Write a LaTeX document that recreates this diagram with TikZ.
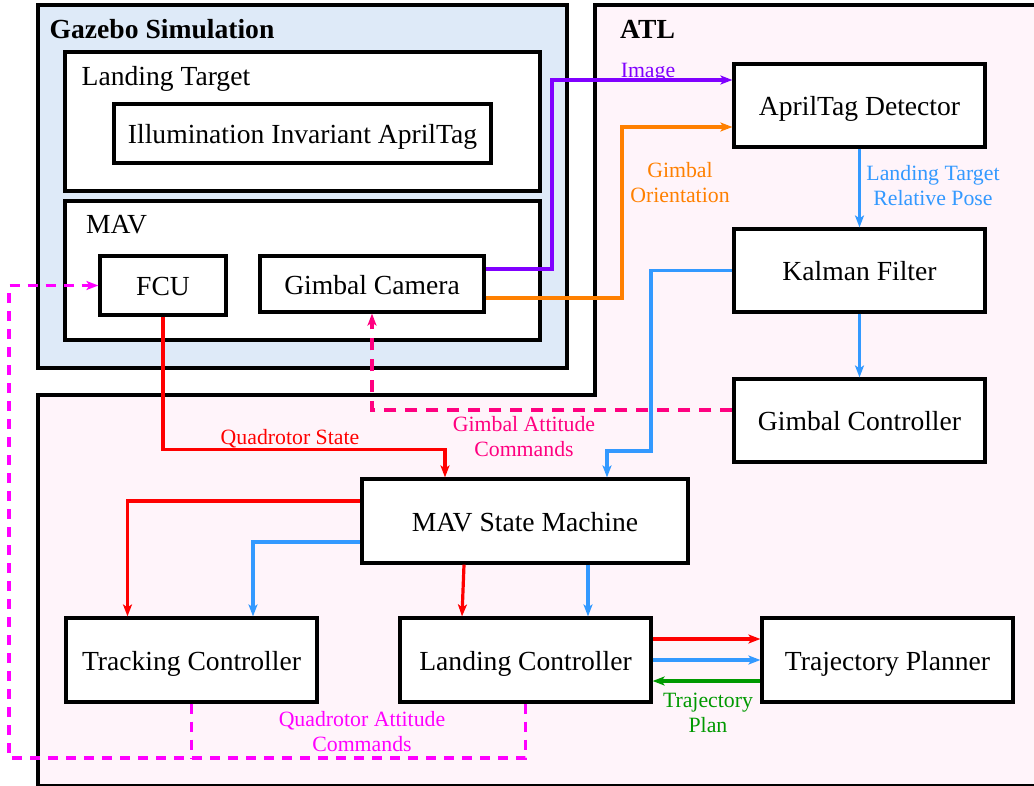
\documentclass[tikz,border=0pt]{standalone}
\usepackage{fontspec}
\setmainfont{Liberation Serif}
\usetikzlibrary{arrows.meta,calc}

\definecolor{simfill}{RGB}{222,234,248}
\definecolor{atlfill}{RGB}{255,244,250}
\definecolor{cimg}{RGB}{128,0,255}
\definecolor{cori}{RGB}{255,128,0}
\definecolor{cpose}{RGB}{51,153,255}
\definecolor{cstate}{RGB}{255,0,0}
\definecolor{cplan}{RGB}{0,153,0}
\definecolor{cgatt}{RGB}{255,0,128}
\definecolor{cqatt}{RGB}{255,0,255}

\begin{document}
\begin{tikzpicture}[x=1pt,y=-1pt,
  frame/.style={draw=black, line width=3.2pt, fill=white, inner sep=0pt},
  block/.style={frame, font=\fontsize{27.6}{33}\selectfont, text height=20pt, text depth=0pt},
  title/.style={anchor=base west, inner sep=0pt, font=\fontsize{27.6}{33}\selectfont},
  lbl/.style={align=center, inner sep=0pt, anchor=base, font=\fontsize{21.8}{25}\selectfont},
  tip/.style={-{Stealth[length=12pt,width=9pt,inset=3pt]}},
  link/.style={line width=3.2pt, tip},
  gatt/.style={line width=3.2pt, cgatt, dash pattern=on 12pt off 9pt},
  qatt/.style={line width=3.2pt, cqatt, dash pattern=on 10pt off 8pt}]

\useasboundingbox (0,0) rectangle (1034,785);

% ATL region (stepped outline) and simulation region
\draw[line width=3.2pt, fill=atlfill] (1045,5) -- (595,5) -- (595,395) -- (38,395)
  -- (38,786) -- (1045,786) -- cycle;
\node[draw=black, line width=3.2pt, fill=simfill, inner sep=0pt,
  minimum width=529pt, minimum height=363pt] (sim) at (302.5,186.5) {};
\node[title, font=\fontsize{27.6}{33}\selectfont\bfseries] (simtitle) at (49.5,38) {Gazebo Simulation};
\node[title, font=\fontsize{27.6}{33}\selectfont\bfseries] (atltitle) at (620,38) {ATL};

% simulation contents
\node[frame, minimum width=475pt, minimum height=139pt] (ltbox) at (302.5,121.5) {};
\node[title] (lttitle) at (81.5,85) {Landing Target};
\node[block, minimum width=377pt, minimum height=59pt] (tag) at (302.5,133.5) {Illumination Invariant AprilTag};
\node[frame, minimum width=475pt, minimum height=139pt] (mavbox) at (302.5,270.5) {};
\node[title] (mavtitle) at (86,233) {MAV};
\node[block, minimum width=126pt, minimum height=59pt] (fcu) at (163,285.5) {FCU};
\node[block, minimum width=224pt, minimum height=56pt] (cam) at (372,284) {Gimbal Camera};

% ATL blocks
\node[block, minimum width=251pt, minimum height=83pt] (det) at (859.5,105.5) {AprilTag Detector};
\node[block, minimum width=251pt, minimum height=83pt] (kf) at (859.5,270.5) {Kalman Filter};
\node[block, minimum width=251pt, minimum height=83pt] (gc) at (859.5,420.5) {Gimbal Controller};
\node[block, minimum width=326pt, minimum height=84pt] (sm) at (525,521) {MAV State Machine};
\node[block, minimum width=251pt, minimum height=84pt] (tc) at (191.5,660) {Tracking Controller};
\node[block, minimum width=251pt, minimum height=84pt] (lc) at (525.5,660) {Landing Controller};
\node[block, minimum width=251pt, minimum height=84pt] (tp) at (887.5,660) {Trajectory Planner};

% camera outputs
\draw[link, cimg] ([yshift=15pt]cam.east) -- (552,269) -- (552,80) -- ([yshift=25.5pt]det.west);
\draw[link, cori] ([yshift=-14pt]cam.east) -- (622,298) -- (622,127) -- ([yshift=-21.5pt]det.west);

% estimation chain
\draw[link, cpose] (det.south) -- (kf.north);
\draw[link, cpose] (kf.south) -- (gc.north);
\draw[link, cpose] (kf.west) -- (651,270.5) -- (651,451) -- (607,451) -- ([xshift=82pt]sm.north);

% gimbal commands
\draw[gatt, tip] ([yshift=10.5pt]gc.west) -| (cam.south);

% quadrotor state into the state machine
\draw[link, cstate] (fcu.south) |- ([xshift=-80pt,yshift=28pt]sm.north) -- ([xshift=-80pt]sm.north);

% state machine to controllers
\draw[link, cstate] ([yshift=20pt]sm.west) -| ([xshift=-64pt]tc.north);
\draw[link, cpose] ([yshift=-21pt]sm.west) -| ([xshift=61.5pt]tc.north);
\draw[link, cstate] ([xshift=-61pt]sm.south) -- ([xshift=-63.5pt]lc.north);
\draw[link, cpose] ([xshift=63pt]sm.south) -- ([xshift=62.5pt]lc.north);

% landing controller and planner
\draw[link, cstate] ([yshift=21pt]lc.east) -- ([yshift=21pt]tp.west);
\draw[link, cpose] (lc.east) -- (tp.west);
\draw[link, cplan] ([yshift=-21pt]tp.west) -- ([yshift=-21pt]lc.east);

% attitude commands back to the FCU
\coordinate (qcorner) at (9,758);
\draw[qatt, tip] (lc.south) |- (qcorner) |- (fcu.west);
\draw[qatt] (tc.south) -- (tc.south |- qcorner);

% connector labels (base = baseline of the last line)
\node[lbl, cimg] (limg) at (648,77) {Image};
\node[lbl, cori] (lori) at (680,202) {Gimbal\\Orientation};
\node[lbl, cpose] (lpose) at (933,205) {Landing Target\\Relative Pose};
\node[lbl, cgatt] (lgatt) at (524,456) {Gimbal Attitude\\Commands};
\node[lbl, cstate] (lstate) at (290,444) {Quadrotor State};
\node[lbl, cqatt] (lqatt) at (362,751) {Quadrotor Attitude\\Commands};
\node[lbl, cplan] (lplan) at (708,732) {Trajectory\\Plan};
\end{tikzpicture}
\end{document}
